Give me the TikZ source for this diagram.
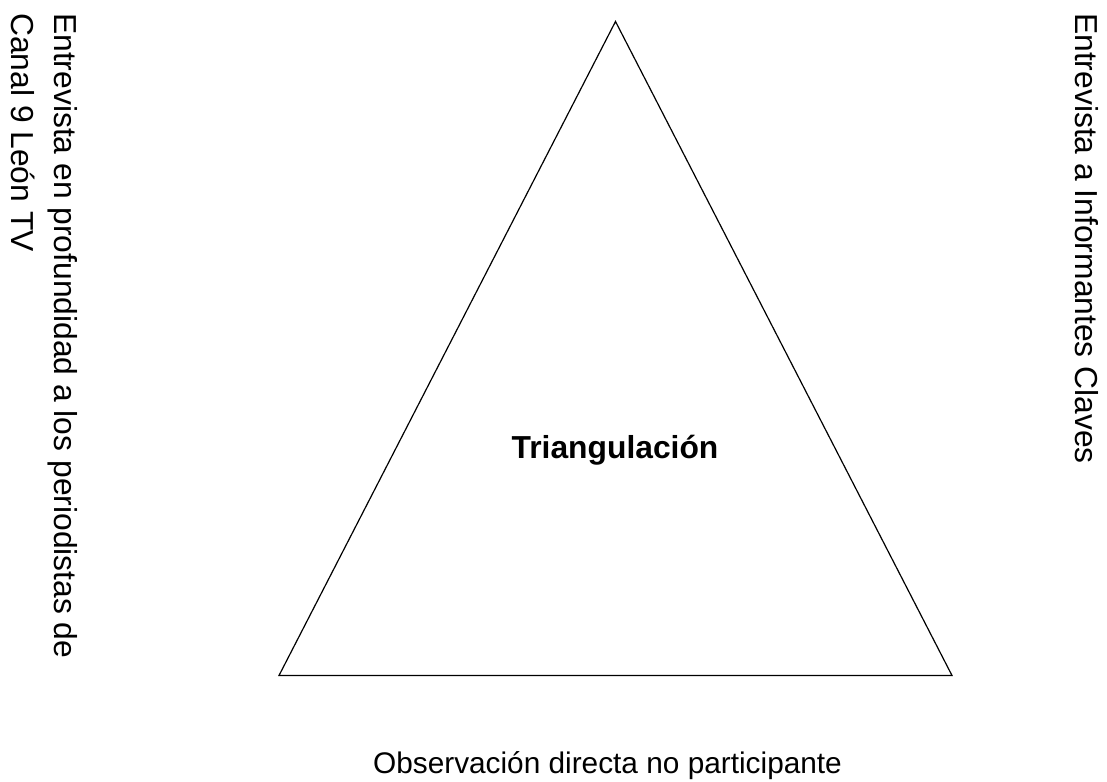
\documentclass[tikz,border=0pt]{standalone}
\usepackage{fontspec}
\setmainfont{Liberation Sans}
\begin{document}
\begin{tikzpicture}[x=1pt,y=-1pt,
  lbl/.style={inner sep=0pt, font=\fontsize{31.8}{43}\selectfont},
  edge/.style={line width=1.2pt, line join=miter}]
\useasboundingbox (0,0) rectangle (1107,781);
\coordinate (apex) at (615.5,21.5);
\coordinate (bl) at (279,675.5);
\coordinate (br) at (952,675.5);
\draw[edge] (apex) -- (bl) -- (br) -- cycle;
\node[lbl, anchor=base, font=\fontsize{31.8}{43}\selectfont\bfseries] (tri) at (615,458) {Triangulación};
\node[lbl, anchor=base, font=\fontsize{29.8}{43}\selectfont] (obs) at (607.5,773) {Observación directa no participante};
\node[lbl, rotate=-90, anchor=north west, align=left] (left) at (77.5,13) {Entrevista en profundidad a los periodistas de\\Canal 9 León TV};
\node[lbl, rotate=-90, anchor=base west] (right) at (1075.5,13) {Entrevista a Informantes Claves};
\end{tikzpicture}
\end{document}
